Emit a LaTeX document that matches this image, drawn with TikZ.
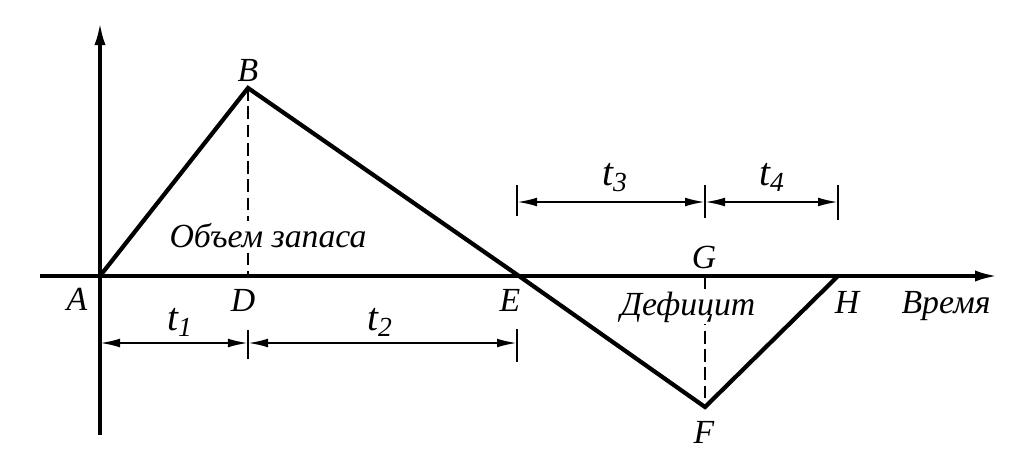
\documentclass[tikz,border=0pt]{standalone}
\usepackage{fontspec}
\setmainfont{Liberation Serif}
\usetikzlibrary{arrows.meta, positioning, calc}
\newcommand\drawtick[3]{ % засечка размерной линии: точка, отступ вверх, отступ вниз (px)
    \draw[tickline] ($(#1)+(0,#2)$) -- ($(#1)+(0,#3)$);
}

\begin{document}
\begin{tikzpicture}[x=0.025cm, y=-0.025cm,
        graph/.style={line width=3pt},
        axis/.style={line width=2.3pt, -{Latex[length=0.55cm, width=0.28cm]}},
        dimline/.style={line width=1.5pt, {Latex[length=0.5cm, width=0.22cm]}-{Latex[length=0.5cm, width=0.22cm]}},
        tickline/.style={line width=2pt},
        guide/.style={line width=1.8pt, dash pattern=on 9pt off 4pt},
        lbl/.style={font=\itshape\fontsize{24}{24}\selectfont, inner sep=0pt},
        tlbl/.style={font=\itshape\fontsize{28}{28}\selectfont, inner sep=0pt, anchor=base},
        txt/.style={font=\itshape\fontsize{24}{24}\selectfont, inner sep=1pt, fill=white, anchor=base}]
        \useasboundingbox (0,0) rectangle (1036,468);
        % точки графика
        \coordinate (A) at (100,276);
        \coordinate (B) at (248,88);
        \coordinate (D) at (248,276);
        \coordinate (E) at (519,276);
        \coordinate (G) at (705,276);
        \coordinate (F) at (705,407);
        \coordinate (H) at (838,276);
        \coordinate (ytop) at (100,23);
        \coordinate (ybot) at (100,435);
        \coordinate (xleft) at (40,276);
        \coordinate (xright) at (997,276);
        % оси
        \draw[axis] (ybot) -- (ytop);
        \draw[axis] (xleft) -- (xright);
        \draw[guide] (B) -- (D);
        \draw[guide] (G) -- (F);
        \draw[graph] (A) -- (B) -- (E) -- (F) -- (H);
        \node[txt] (zapas) at (268,247) {Объем запаса};
        \node[txt] (deficit) at (688,315) {Дефицит};
        % размерные линии
        \coordinate (d1A) at (100,343);
        \coordinate (d1D) at (248,343);
        \coordinate (d1E) at (517,343);
        \coordinate (d2E) at (517,202);
        \coordinate (d2G) at (705,202);
        \coordinate (d2H) at (838,202);
        \draw[dimline] (d1A) -- (d1D);
        \draw[dimline] (d1D) -- (d1E);
        \draw[dimline] (d2E) -- (d2G);
        \draw[dimline] (d2G) -- (d2H);
        \drawtick{d1D}{-13}{16}
        \drawtick{d1E}{-14}{19}
        \drawtick{d2E}{-17}{14}
        \drawtick{d2G}{-17}{16}
        \drawtick{d2H}{-17}{18}
        \node[tlbl] (t1) at (180,330) {t\textsubscript{1}};
        \node[tlbl] (t2) at (380,330) {t\textsubscript{2}};
        \node[tlbl] (t3) at (615,185) {t\textsubscript{3}};
        \node[tlbl] (t4) at (772,185) {t\textsubscript{4}};
        % подписи точек
        \node[lbl] (lblA) at (77,299) {A};
        \node[lbl] (lblB) at (248,70) {B};
        \node[lbl] (lblD) at (243,300) {D};
        \node[lbl] (lblE) at (510,300) {E};
        \node[lbl] (lblG) at (704,257) {G};
        \node[lbl] (lblF) at (704,432) {F};
        \node[lbl] (lblH) at (847,302) {H};
        \node[lbl, anchor=base] (time) at (946,313) {Время};
\end{tikzpicture}
\end{document}
